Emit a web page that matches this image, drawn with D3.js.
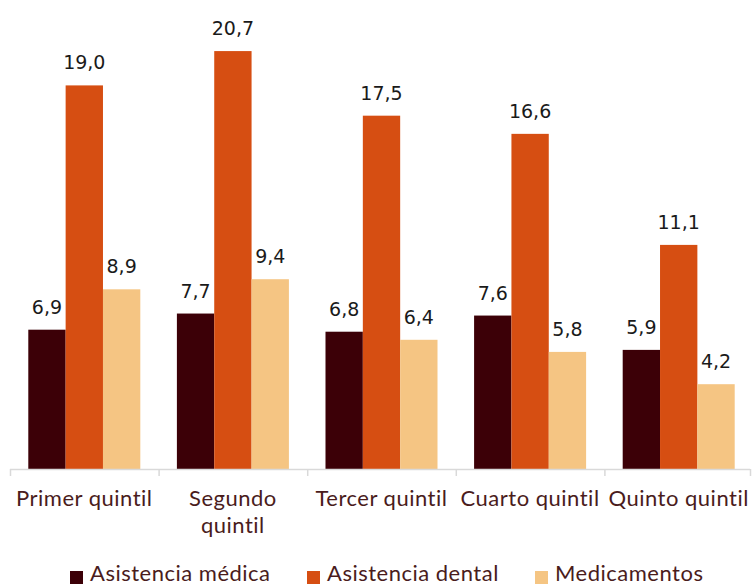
<!DOCTYPE html>
<html><head><meta charset="utf-8">
<script src="https://cdn.jsdelivr.net/npm/d3@7"></script>
<style>body{margin:0;background:#fff}</style>
</head><body>
<svg id="c" width="753" height="586"></svg>
<script>
const categories = [["Primer quintil"], ["Segundo", "quintil"], ["Tercer quintil"], ["Cuarto quintil"], ["Quinto quintil"]];
const seriesNames = ["Asistencia médica", "Asistencia dental", "Medicamentos"];
const medica = [6.9, 7.7, 6.8, 7.6, 5.9];
const dental = [19.0, 20.7, 17.5, 16.6, 11.1];
const medicamentos = [8.9, 9.4, 6.4, 5.8, 4.2];
const colors = ["#3c0007", "#d64e12", "#f5c583"];

const series = [medica, dental, medicamentos];
const svg = d3.select("#c");
const x0 = d3.scaleBand().domain(d3.range(categories.length)).range([10, 753]).paddingInner(0).paddingOuter(0);
const x1 = d3.scaleBand().domain(d3.range(3)).range([0, x0.bandwidth()]).paddingInner(0).paddingOuter(0.49);
const y = d3.scaleLinear().domain([0, 23.23]).range([469, 0]);

// bars
const g = svg.append("g");
categories.forEach((c, i) => {
  series.forEach((s, j) => {
    g.append("rect")
      .attr("x", x0(i) + x1(j))
      .attr("y", y(s[i]))
      .attr("width", x1.bandwidth())
      .attr("height", y(0) - y(s[i]))
      .attr("fill", colors[j]);
    g.append("text")
      .attr("x", x0(i) + x1(j) + x1.bandwidth() / 2)
      .attr("y", y(s[i]) - 16)
      .attr("text-anchor", "middle")
      .attr("font-family", "DejaVu Sans")
      .attr("font-size", 19)
      .attr("fill", "#1a1a1a")
      .text(d3.format(".1f")(s[i]).replace(".", ","));
  });
});

// axis
const ax = svg.append("g");
ax.append("line").attr("x1", 10).attr("x2", 750).attr("y1", 469.5).attr("y2", 469.5).attr("stroke", "#d9d9d9").attr("stroke-width", 1.5);
const bounds = d3.range(categories.length + 1).map(i => i < categories.length ? x0(i) : 750);
bounds.forEach(b => {
  ax.append("line").attr("x1", b + 0.5).attr("x2", b + 0.5).attr("y1", 469).attr("y2", 476).attr("stroke", "#d9d9d9").attr("stroke-width", 1.5);
});
categories.forEach((c, i) => {
  const t = ax.append("text")
    .attr("x", x0(i) + x0.bandwidth() / 2)
    .attr("y", 506)
    .attr("text-anchor", "middle")
    .attr("font-family", "Lato")
    .attr("font-size", 22)
    .attr("letter-spacing", 0.5)
    .attr("fill", "#4a1c1c");
  c.forEach((line, k) => {
    t.append("tspan").attr("x", x0(i) + x0.bandwidth() / 2).attr("dy", k === 0 ? 0 : 27).text(line);
  });
});

// legend
const legendX = [70, 307, 535];
const lg = svg.append("g");
seriesNames.forEach((n, j) => {
  lg.append("rect").attr("x", legendX[j]).attr("y", 571).attr("width", 13).attr("height", 13).attr("fill", colors[j]);
  lg.append("text").attr("x", legendX[j] + 20).attr("y", 581)
    .attr("font-family", "Lato").attr("font-size", 22).attr("letter-spacing", 0.5)
    .attr("fill", "#4a1c1c").text(n);
});
</script>
</body></html>
